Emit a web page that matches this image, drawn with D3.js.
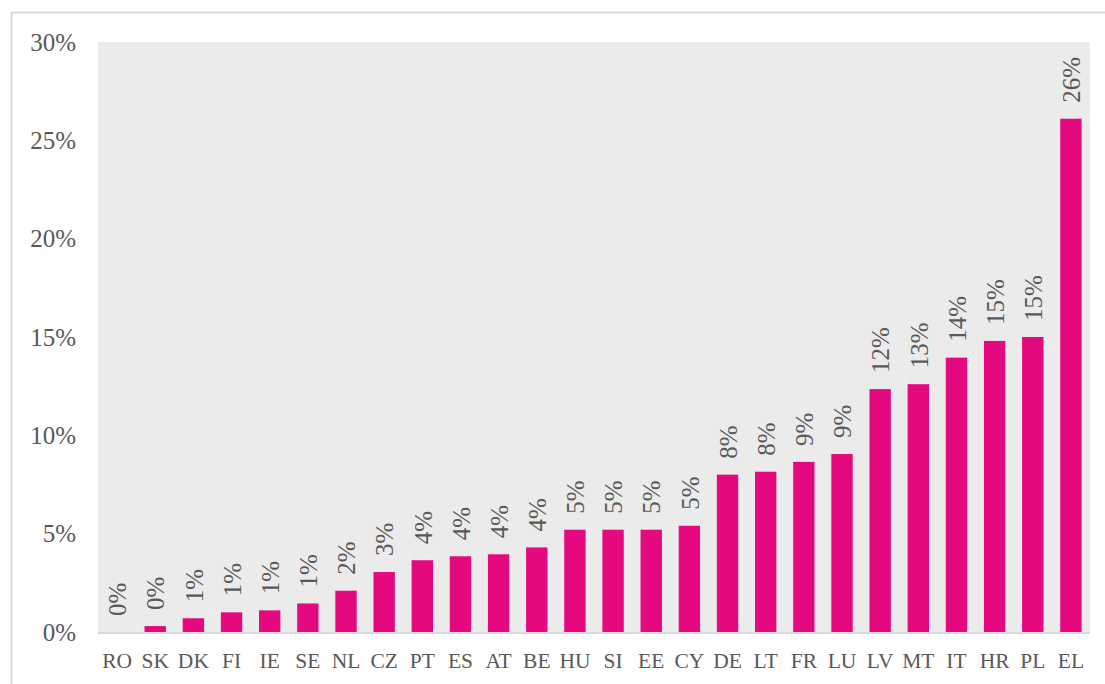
<!DOCTYPE html>
<html>
<head>
<meta charset="utf-8">
<script src="https://cdn.jsdelivr.net/npm/d3@7"></script>
<style>
	body { margin: 0; background: #ffffff; }
	svg { display: block; }
</style>
</head>
<body>
<div id="chart"></div>
<script>

// countries, sorted as in the source
const countries = ['RO', 'SK', 'DK', 'FI', 'IE', 'SE', 'NL', 'CZ', 'PT', 'ES', 'AT', 'BE', 'HU',
	'SI', 'EE', 'CY', 'DE', 'LT', 'FR', 'LU', 'LV', 'MT', 'IT', 'HR', 'PL', 'EL'];

// share
const shares = [0.000, 0.003, 0.007, 0.010, 0.011, 0.0145, 0.021, 0.0305, 0.0365, 0.0385, 0.0395, 0.043, 0.052,
	0.052, 0.052, 0.054, 0.080, 0.0815, 0.0865, 0.0905, 0.1235, 0.126, 0.1395, 0.148, 0.150, 0.261];

const yTicks = [0, 0.05, 0.10, 0.15, 0.20, 0.25, 0.30];

const width = 1105;
const height = 684;
const margin = { top: 42, right: 15, bottom: 52, left: 98 };

const theme = {
	plotBg: '#ebebeb',
	bar: '#e4097f',
	text: '#595959',
	line: '#d9d9d9',
	font: '"Liberation Serif", "Times New Roman", serif',
};

const svg = d3.select('#chart')
	.append('svg')
	.attr('width', width)
	.attr('height', height);

// outer frame
svg.append('rect')
	.attr('x', 11.5)
	.attr('y', 12.5)
	.attr('width', width + 20)
	.attr('height', height + 20)
	.attr('fill', 'none')
	.attr('stroke', theme.line)
	.attr('stroke-width', 2);

const x = d3.scaleBand()
	.domain(countries)
	.range([margin.left, width - margin.right])
	.paddingInner(0.44)
	.paddingOuter(0.22);

const y = d3.scaleLinear()
	.domain([0, 0.30])
	.range([height - margin.bottom, margin.top]);

svg.append('rect')
	.attr('x', margin.left)
	.attr('y', margin.top)
	.attr('width', width - margin.right - margin.left)
	.attr('height', height - margin.bottom - margin.top)
	.attr('fill', theme.plotBg);

// y axis labels
const yAxis = d3.axisLeft(y)
	.tickValues(yTicks)
	.tickFormat(d3.format('.0%'))
	.tickSize(0)
	.tickPadding(22);

svg.append('g')
	.attr('transform', `translate(${margin.left},0)`)
	.call(yAxis)
	.call(g => g.select('.domain').remove())
	.selectAll('text')
	.attr('fill', theme.text)
	.attr('font-family', theme.font)
	.attr('font-size', 25);

// bars
const data = countries.map((c, i) => ({ c: c, v: shares[i] }));

svg.append('g')
	.selectAll('rect')
	.data(data)
	.join('rect')
	.attr('x', d => x(d.c))
	.attr('y', d => y(d.v))
	.attr('width', x.bandwidth())
	.attr('height', d => y(0) - y(d.v))
	.attr('fill', theme.bar);

// baseline
svg.append('line')
	.attr('x1', margin.left)
	.attr('x2', width - margin.right)
	.attr('y1', y(0) + 1)
	.attr('y2', y(0) + 1)
	.attr('stroke', theme.line)
	.attr('stroke-width', 2);

// x axis labels
const xAxis = d3.axisBottom(x)
	.tickSize(0)
	.tickPadding(21);

svg.append('g')
	.attr('transform', `translate(0,${y(0)})`)
	.call(xAxis)
	.call(g => g.select('.domain').remove())
	.selectAll('text')
	.attr('fill', theme.text)
	.attr('font-family', theme.font)
	.attr('font-size', 21.5);

// value labels, rotated
svg.append('g')
	.selectAll('text')
	.data(data)
	.join('text')
	.attr('transform', d => `translate(${x(d.c) + x.bandwidth() / 2 + 1},${y(d.v) - 16}) rotate(-90)`)
	.attr('dy', '0.33em')
	.attr('text-anchor', 'start')
	.attr('fill', theme.text)
	.attr('font-family', theme.font)
	.attr('font-size', 25)
	.text(d => d3.format('.0%')(d.v));

</script>
</body>
</html>
